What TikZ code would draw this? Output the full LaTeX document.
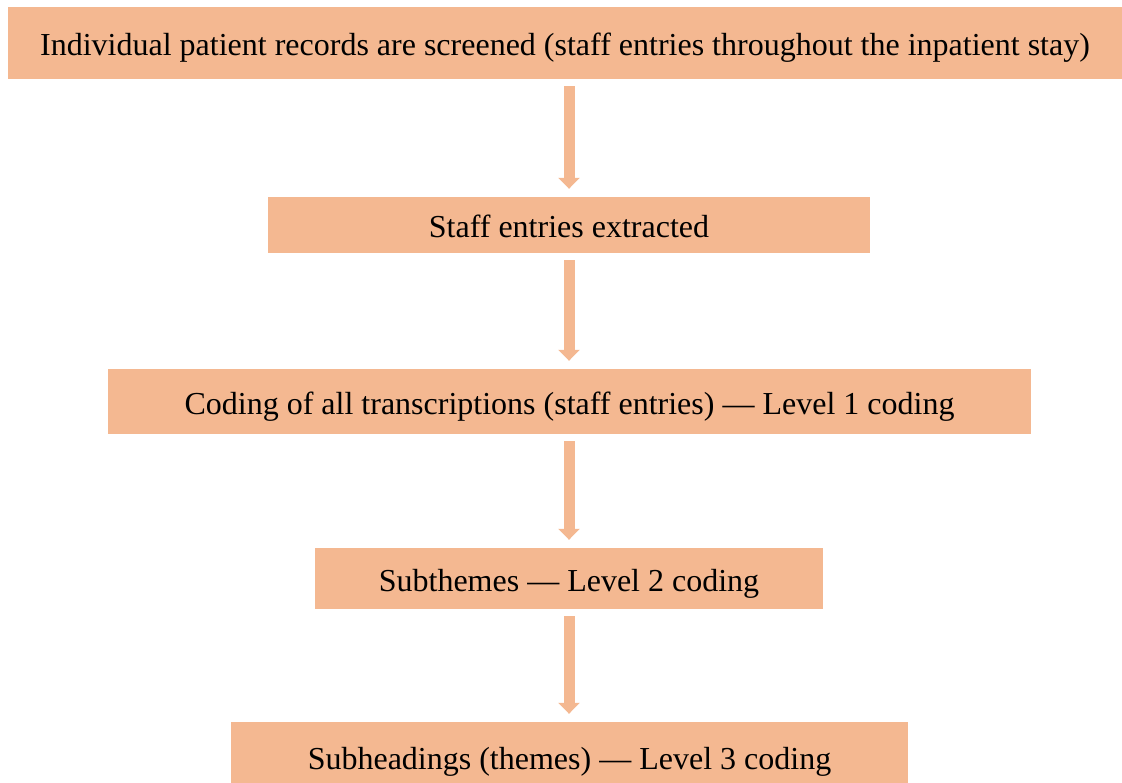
\documentclass[tikz,border=0pt]{standalone}
\usepackage{fontspec}
\setmainfont{Liberation Serif}
\usetikzlibrary{arrows.meta}
\definecolor{peach}{RGB}{244,184,145}

\begin{document}
\begin{tikzpicture}[x=1pt, y=-1pt,
    every node/.style={font=\fontsize{32}{38}\selectfont},
    stepbox/.style={fill=peach, inner sep=0pt, text height=26pt, text depth=0pt, anchor=center},
    flow/.style={draw=peach, line width=11pt, shorten <=7pt, shorten >=8pt,
        -{Triangle[width=21pt, length=11pt]}}]
\useasboundingbox (0,0) rectangle (1122,783);
% Draw boxes
\node[stepbox, minimum width=1114pt, minimum height=72pt] (b1) at (565,43)
    {Individual patient records are screened (staff entries throughout the inpatient stay)};
\node[stepbox, minimum width=602pt, minimum height=56pt] (b2) at (569,225)
    {Staff entries extracted};
\node[stepbox, minimum width=923pt, minimum height=65pt] (b3) at (569.5,401.5)
    {Coding of all transcriptions (staff entries) --- Level 1 coding};
\node[stepbox, minimum width=508pt, minimum height=61pt] (b4) at (569,578.5)
    {Subthemes --- Level 2 coding};
\node[stepbox, minimum width=677pt, minimum height=68pt] (b5) at (569.5,756)
    {Subheadings (themes) --- Level 3 coding};
% Draw arrows
\draw[flow] (b1.south -| b2) -- (b2.north);
\foreach \a/\b in {b2/b3, b3/b4, b4/b5}
    \draw[flow] (\a.south -| b2) -- (\b.north -| b2);
\end{tikzpicture}
\end{document}
